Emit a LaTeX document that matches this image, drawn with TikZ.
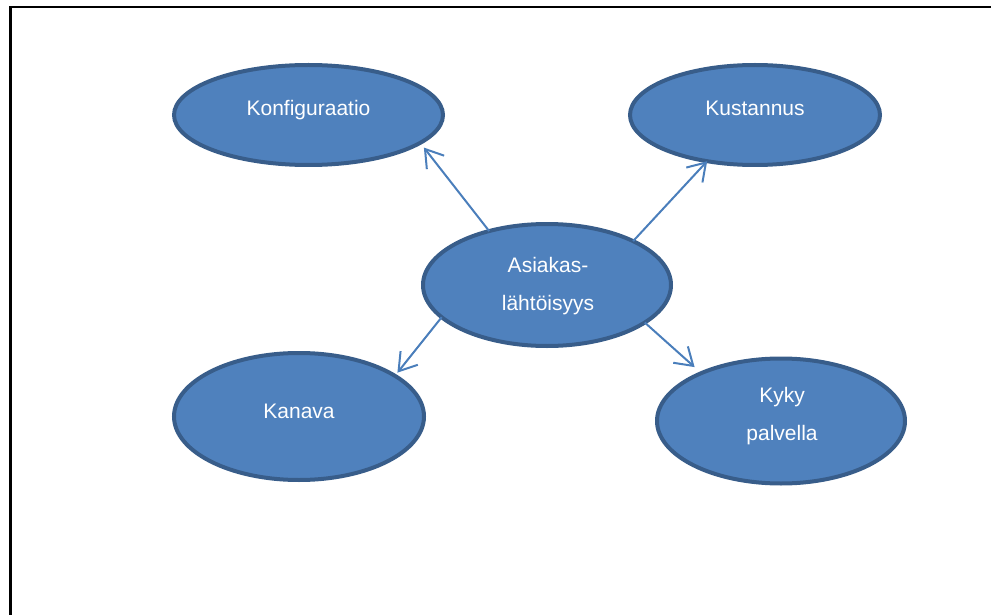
\documentclass[tikz,border=0pt]{standalone}
\usepackage{fontspec}
\setmainfont{Liberation Sans}
\usetikzlibrary{shapes.geometric,arrows.meta}
\definecolor{bubblefill}{HTML}{4F81BD}
\definecolor{bubbleline}{HTML}{385D8A}
\definecolor{linkcol}{HTML}{4A7EBB}
\begin{document}
\begin{tikzpicture}[x=1pt,y=-1pt,
  bubble/.style={ellipse,draw=bubbleline,fill=bubblefill,line width=4pt,
    inner sep=0pt,outer sep=0pt},
  lbl/.style={text=white,font=\fontsize{21}{38}\selectfont,inner sep=0pt,align=center},
  link/.style={draw=linkcol,line width=2pt,
    -{Straight Barb[length=17pt,width=22pt,line width=2pt]}}]
  \useasboundingbox (0,0) rectangle (991,615);
  % page frame (top and left edges)
  \draw[line width=2.3pt,line cap=rect] (991,6.7) -- (10.5,6.7) -- (10.5,616);

  % bubbles
  \node[bubble,minimum width=269pt,minimum height=100pt] (konf) at (308.5,115) {};
  \node[bubble,minimum width=250pt,minimum height=100pt] (kust) at (755,115) {};
  \node[bubble,minimum width=248pt,minimum height=122pt] (asia) at (547,285) {};
  \node[bubble,minimum width=250pt,minimum height=127pt] (kana) at (299,416.5) {};
  \node[bubble,minimum width=248pt,minimum height=125pt] (kyky) at (781,421) {};

  % labels
  \node[lbl,anchor=base] (tkonf) at (308.5,116) {Konfiguraatio};
  \node[lbl,anchor=base] (tkust) at (755,116) {Kustannus};
  \node[lbl] (tasia) at (548,286.5) {Asiakas-\\lähtöisyys};
  \node[lbl,anchor=base] (tkana) at (299,418) {Kanava};
  \node[lbl] (tkyky) at (782,416.5) {Kyky\\palvella};

  % connectors from the centre bubble
  \draw[link,shorten >=6pt] (asia.137.5) -- (konf.-14);
  \draw[link] (asia.27.3) -- (kust.224.4);
  \draw[link,shorten >=4pt] (asia.197.3) -- (kana.23.9);
  \draw[link,shorten >=9pt] (asia.-21.1) -- (kyky.149.3);
\end{tikzpicture}
\end{document}
